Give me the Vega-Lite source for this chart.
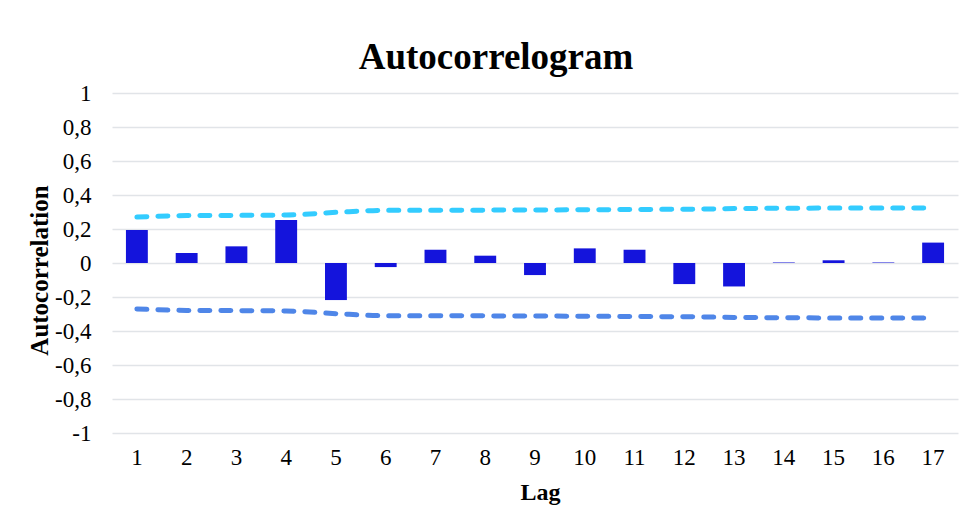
{
  "$schema": "https://vega.github.io/schema/vega-lite/v6.json",
  "autosize": {"type": "none"},
  "width": 846,
  "height": 340,
  "padding": {"left": 112, "top": 93, "right": 12, "bottom": 75},
  "background": "white",
  "config": {
    "font": "Liberation Serif",
    "view": {"stroke": null},
    "axisY": {
      "labelFont": "Liberation Serif",
      "labelFontSize": 23,
      "labelColor": "#000000",
      "labelPadding": 21,
      "labelOverlap": false,
      "domain": false,
      "ticks": false,
      "grid": true,
      "gridColor": "#E1E4E8",
      "gridWidth": 1.5,
      "titleFont": "Liberation Serif",
      "titleFontSize": 25,
      "titleFontWeight": "bold",
      "titleColor": "#000000"
    }
  },
  "title": {
    "text": "Autocorrelogram",
    "font": "Liberation Serif",
    "fontSize": 37,
    "fontWeight": "bold",
    "color": "#000000",
    "anchor": "middle",
    "dx": -39,
    "offset": 5
  },
  "data": {
    "values": [
      {"lag": 1, "acf": 0.194, "upper": 0.27, "lower": -0.27},
      {"lag": 2, "acf": 0.059, "upper": 0.279, "lower": -0.279},
      {"lag": 3, "acf": 0.098, "upper": 0.28, "lower": -0.28},
      {"lag": 4, "acf": 0.253, "upper": 0.282, "lower": -0.282},
      {"lag": 5, "acf": -0.218, "upper": 0.298, "lower": -0.298},
      {"lag": 6, "acf": -0.024, "upper": 0.31, "lower": -0.31},
      {"lag": 7, "acf": 0.078, "upper": 0.31, "lower": -0.31},
      {"lag": 8, "acf": 0.043, "upper": 0.311, "lower": -0.311},
      {"lag": 9, "acf": -0.071, "upper": 0.312, "lower": -0.312},
      {"lag": 10, "acf": 0.086, "upper": 0.313, "lower": -0.313},
      {"lag": 11, "acf": 0.078, "upper": 0.315, "lower": -0.315},
      {"lag": 12, "acf": -0.124, "upper": 0.316, "lower": -0.316},
      {"lag": 13, "acf": -0.138, "upper": 0.32, "lower": -0.32},
      {"lag": 14, "acf": 0.003, "upper": 0.322, "lower": -0.322},
      {"lag": 15, "acf": 0.016, "upper": 0.323, "lower": -0.323},
      {"lag": 16, "acf": 0.003, "upper": 0.323, "lower": -0.323},
      {"lag": 17, "acf": 0.12, "upper": 0.324, "lower": -0.324}
    ]
  },
  "encoding": {
    "x": {
      "field": "lag",
      "type": "ordinal",
      "scale": {"paddingInner": 0.56, "paddingOuter": 0.28},
      "axis": {
        "title": "Lag",
        "labelAngle": 0,
        "labelFont": "Liberation Serif",
        "labelFontSize": 23,
        "labelColor": "#000000",
        "labelPadding": 13,
        "labelOverlap": false,
        "domain": false,
        "ticks": false,
        "grid": false,
        "titleFont": "Liberation Serif",
        "titleFontSize": 24,
        "titleFontWeight": "bold",
        "titleColor": "#000000",
        "titlePadding": 11,
        "titleX": 428
      }
    }
  },
  "layer": [
    {
      "mark": {"type": "bar", "color": "#1414DC"},
      "encoding": {
        "y": {
          "field": "acf",
          "type": "quantitative",
          "scale": {"domain": [-1, 1], "nice": false},
          "axis": {
            "title": "Autocorrelation",
            "values": [-1, -0.8, -0.6, -0.4, -0.2, 0, 0.2, 0.4, 0.6, 0.8, 1],
            "labelExpr": "replace(replace(format(datum.value, '.1~f'), '.', ','), '\u2212', '-')",
            "labelOverlap": false,
            "titleAngle": -90,
            "titleAlign": "center",
            "titleBaseline": "middle",
            "titleX": -73,
            "titleY": 177
          }
        }
      }
    },
    {
      "mark": {"type": "line", "color": "#33CCFF", "strokeWidth": 5, "strokeDash": [10, 11], "strokeCap": "round", "interpolate": "monotone"},
      "encoding": {
        "y": {
          "field": "upper",
          "type": "quantitative",
          "axis": {
            "title": "Autocorrelation",
            "values": [-1, -0.8, -0.6, -0.4, -0.2, 0, 0.2, 0.4, 0.6, 0.8, 1],
            "labelExpr": "replace(replace(format(datum.value, '.1~f'), '.', ','), '\u2212', '-')",
            "labelOverlap": false,
            "titleAngle": -90,
            "titleAlign": "center",
            "titleBaseline": "middle",
            "titleX": -73,
            "titleY": 177
          }
        }
      }
    },
    {
      "mark": {"type": "line", "color": "#4F86E8", "strokeWidth": 5, "strokeDash": [10, 11], "strokeCap": "round", "interpolate": "monotone"},
      "encoding": {
        "y": {
          "field": "lower",
          "type": "quantitative",
          "axis": {
            "title": "Autocorrelation",
            "values": [-1, -0.8, -0.6, -0.4, -0.2, 0, 0.2, 0.4, 0.6, 0.8, 1],
            "labelExpr": "replace(replace(format(datum.value, '.1~f'), '.', ','), '\u2212', '-')",
            "labelOverlap": false,
            "titleAngle": -90,
            "titleAlign": "center",
            "titleBaseline": "middle",
            "titleX": -73,
            "titleY": 177
          }
        }
      }
    }
  ]
}
